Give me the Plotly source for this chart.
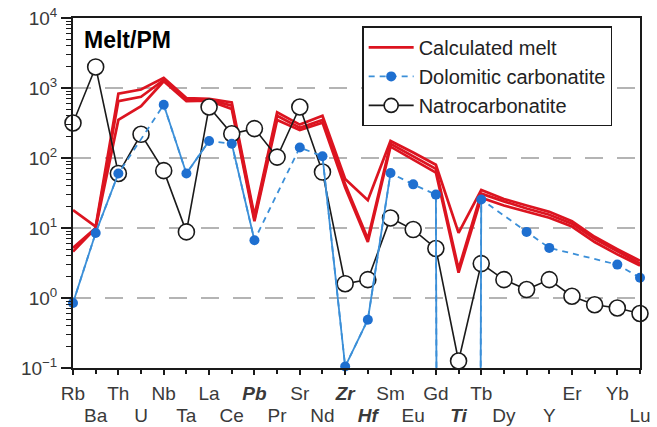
import plotly.graph_objects as go

# ---------------- data ----------------
elements = ["Rb", "Ba", "Th", "U", "Nb", "Ta", "La", "Ce", "Pb", "Pr", "Sr", "Nd", "Zr",
            "Hf", "Sm", "Eu", "Gd", "Ti", "Tb", "Dy", "Ho", "Y", "Er", "Tm", "Yb", "Lu"]
tick_labels = ["Rb", "Ba", "Th", "U", "Nb", "Ta", "La", "Ce", "<b><i>Pb</i></b>", "Pr", "Sr", "Nd",
               "<b><i>Zr</i></b>", "<b><i>Hf</i></b>", "Sm", "Eu", "Gd", "<b><i>Ti</i></b>", "Tb", "Dy",
               "", "Y", "Er", "", "Yb", "Lu"]

melt_upper = [18, 10.5, 830, 950, 1400, 720, 700, 620, 15, 450, 300, 400, 50, 25, 175, 120, 80,
              8.5, 35, 26, 21, 17, 12.5, 7.5, 5.0, 3.4]
melt_middle = [5.2, 10, 650, 750, 1300, 680, 680, 560, 13.5, 400, 270, 350, 42, 7.0, 160, 105, 70,
               2.6, 31, 24, 19, 15.5, 11.5, 7.0, 4.6, 3.1]
melt_lower = [4.6, 10, 350, 550, 1250, 650, 660, 500, 12.5, 350, 250, 320, 38, 6.3, 145, 95, 62,
              2.3, 27, 21, 17, 14, 10.5, 6.3, 4.2, 2.9]

# dolomitic carbonatite (None = not analysed, Ti far below detection)
dolomitic = [0.85, 8.5, 60, None, 575, 60, 175, 160, 6.7, None, 141, 106, 0.105, 0.49, 61, 42, 30,
             1e-99, 25.6, None, 8.8, 5.2, None, None, 3.0, 1.95]
# segments of the dolomitic pattern drawn as solid lines (pairs of element indices)
dolomitic_solid_pairs = [(0, 1), (1, 2), (4, 5), (5, 6), (7, 8), (11, 12), (12, 13), (13, 14),
                         (16, 17), (17, 18)]

natro = [316, 2000, 60, 218, 66, 8.8, 535, 222, 263, 103, 535, 63, 1.6, 1.83, 13.9, 9.5, 5.1,
         0.126, 3.1, 1.83, 1.32, 1.83, 1.06, 0.8, 0.72, 0.6]

y_exponents = [-1, 0, 1, 2, 3, 4]

# ---------------- styles ----------------
RED = "#dc1420"
BLUE_LINE = "#3b8fd8"
BLUE_MARK = "#1e6fd0"
BLACK = "#1a1a1a"
FONT = "Arial, Liberation Sans, Helvetica, sans-serif"

x_idx = list(range(len(elements)))

fig = go.Figure()

# calculated melt (three model lines)
for i, series in enumerate([melt_lower, melt_middle, melt_upper]):
    fig.add_trace(go.Scatter(
        x=x_idx, y=series, mode="lines",
        line=dict(color=RED, width=2.7),
        name="Calculated melt", legendgroup="melt", showlegend=(i == 2),
        hoverinfo="skip"))

# natrocarbonatite
fig.add_trace(go.Scatter(
    x=x_idx, y=natro, mode="lines+markers",
    line=dict(color=BLACK, width=1.6),
    marker=dict(symbol="circle", size=16, color="white", line=dict(color=BLACK, width=1.6)),
    name="Natrocarbonatite", legendgroup="natro", showlegend=False, cliponaxis=False))

# dolomitic carbonatite: dashed link through all analysed elements
dx = [i for i, v in enumerate(dolomitic) if v is not None]
dy = [dolomitic[i] for i in dx]
fig.add_trace(go.Scatter(
    x=dx, y=dy, mode="lines",
    line=dict(color=BLUE_LINE, width=1.8, dash="6px,5px"),
    showlegend=False, hoverinfo="skip"))
# solid segments
sx, sy = [], []
for a, b in dolomitic_solid_pairs:
    sx += [a, b, None]
    sy += [dolomitic[a], dolomitic[b], None]
fig.add_trace(go.Scatter(
    x=sx, y=sy, mode="lines",
    line=dict(color=BLUE_LINE, width=1.8),
    showlegend=False, hoverinfo="skip"))
# markers
fig.add_trace(go.Scatter(
    x=dx, y=dy, mode="markers",
    marker=dict(size=10, color=BLUE_MARK),
    showlegend=False, cliponaxis=False))

# legend-only entries
fig.add_trace(go.Scatter(
    x=[None], y=[None], mode="lines+markers",
    line=dict(color=BLUE_LINE, width=1.8, dash="6px,5px"),
    marker=dict(size=10, color=BLUE_MARK),
    name="Dolomitic carbonatite", legendgroup="dolo"))
fig.add_trace(go.Scatter(
    x=[None], y=[None], mode="lines+markers",
    line=dict(color=BLACK, width=1.6),
    marker=dict(symbol="circle", size=14, color="white", line=dict(color=BLACK, width=1.6)),
    name="Natrocarbonatite", legendgroup="natro"))

# hidden trace to carry the second (lower-row) label axis
fig.add_trace(go.Scatter(x=[0, len(elements) - 1], y=[1, 1], xaxis="x2", mode="markers",
                         marker=dict(opacity=0), showlegend=False, hoverinfo="skip"))

even = [i for i in x_idx if i % 2 == 0]
odd = [i for i in x_idx if i % 2 == 1]
tick_font = dict(family=FONT, size=19, color="#3a3a3a")

fig.update_layout(
    width=657, height=427,
    margin=dict(l=73, r=17, t=18, b=59, autoexpand=False),
    paper_bgcolor="white", plot_bgcolor="white",
    font=dict(family=FONT, color="#222"),
    xaxis=dict(
        range=[0, len(elements) - 1], tickmode="array",
        tickvals=even, ticktext=[tick_labels[i] for i in even],
        ticks="outside", ticklen=5, tickwidth=1.5, tickcolor=BLACK,
        showline=True, linecolor=BLACK, linewidth=2, mirror=True,
        showgrid=False, zeroline=False, tickfont=tick_font,
        ticklabelstandoff=2, automargin=False),
    xaxis2=dict(
        range=[0, len(elements) - 1], overlaying="x", anchor="y", side="bottom",
        tickmode="array", tickvals=odd, ticktext=[tick_labels[i] for i in odd],
        ticks="outside", ticklen=5, tickwidth=1.5, tickcolor=BLACK,
        showline=False, showgrid=False, zeroline=False, tickfont=tick_font,
        ticklabelstandoff=25, automargin=False),
    yaxis=dict(
        type="log", range=[y_exponents[0], y_exponents[-1]],
        tickmode="array", tickvals=[10 ** e for e in y_exponents],
        ticktext=["10<sup>%s</sup>" % (str(e) if e >= 0 else "\u2212" + str(-e)) for e in y_exponents],
        ticks="outside", ticklen=10, tickwidth=1.5, tickcolor=BLACK,
        minor=dict(ticks="outside", ticklen=5, tickwidth=1.2, tickcolor=BLACK, dtick="D1", showgrid=False),
        showline=True, linecolor=BLACK, linewidth=2, mirror=True,
        showgrid=True, gridcolor="#b4b4b4", gridwidth=2, griddash="18px,14px",
        zeroline=False, tickfont=tick_font, automargin=False),
    legend=dict(
        x=0.51, y=0.976, xanchor="left", yanchor="top",
        bordercolor=BLACK, borderwidth=1.5, bgcolor="white",
        font=dict(family=FONT, size=20, color="#222"),
        itemwidth=45, traceorder="grouped", tracegroupgap=0),
    annotations=[dict(
        text="<b>Melt/PM</b>", xref="paper", yref="paper", x=0.015, y=0.937,
        xanchor="left", yanchor="middle", showarrow=False,
        font=dict(family=FONT, size=23, color="black"))],
    showlegend=True,
)

fig.write_html("out.html", config={"displayModeBar": False},
               post_script="document.body.style.margin='0';document.body.style.padding='0';"
                           "document.body.style.overflow='hidden';")
